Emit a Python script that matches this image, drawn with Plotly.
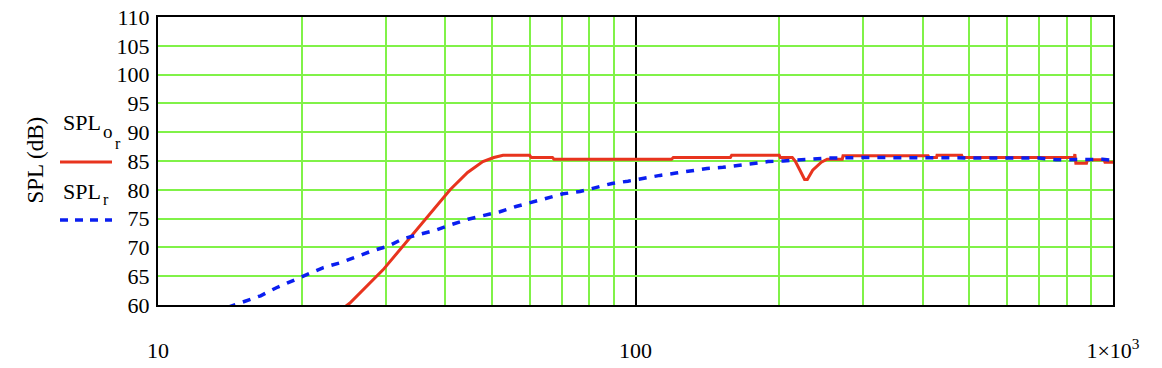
import plotly.graph_objects as go

# ---- data ----
freq_or = [24, 25.2, 29.6, 34.8, 40.9, 44.5, 47.9, 50.5, 52.8, 60, 60.5, 67, 67.5, 119, 120, 158, 159,
           200, 201, 213, 216, 221, 226, 229, 235, 245, 252, 271, 272, 410, 412, 427, 428, 482, 484,
           830, 832, 836, 880, 884, 958, 962, 1000]
spl_or = [59.0, 60.3, 66.1, 73.0, 80.0, 83.0, 84.9, 85.6, 86.0, 86.0, 85.6, 85.6, 85.3, 85.3, 85.6, 85.6, 86.0,
          86.0, 85.6, 85.6, 85.0, 83.4, 81.8, 81.8, 83.4, 84.8, 85.3, 85.3, 85.9, 85.9, 85.6, 85.6, 86.0, 86.0, 85.6,
          85.6, 86.2, 84.6, 84.6, 85.2, 85.2, 84.8, 84.8]

freq_r = [14.0, 15.1, 16.4, 17.7, 19.1, 20.6, 22.2, 24.0, 26.0, 28.1, 30.3, 32.6, 35.4, 38.2, 41.3, 44.6,
          47.9, 52.0, 56.2, 60.7, 65.3, 70.5, 76.5, 82.6, 89.3, 96.4, 103.7, 112.5, 121.6, 131.2, 141.1,
          152.4, 164, 176, 189.5, 204, 219, 235, 252, 300, 500, 700, 760, 850, 950, 1000]
spl_r = [59.6, 60.6, 61.6, 63.0, 64.2, 65.3, 66.5, 67.3, 68.4, 69.4, 70.2, 71.5, 72.3, 73.0, 74.0, 74.9,
         75.5, 76.2, 77.1, 77.8, 78.5, 79.3, 79.7, 80.4, 81.1, 81.5, 82.0, 82.5, 82.9, 83.3, 83.7,
         83.9, 84.2, 84.5, 84.9, 85.0, 85.2, 85.3, 85.5, 85.6, 85.6, 85.5, 85.2, 85.3, 85.3, 85.1]

x_tickvals = [10, 100, 1000]
x_ticktext = ["10", "100", "1×10<sup>3</sup>"]
x_minor = [20, 30, 40, 50, 60, 70, 80, 90, 200, 300, 400, 500, 600, 700, 800, 900]
y_ticks = list(range(60, 111, 5))

RED = "#E8341E"
BLUE = "#0A1EF0"
GREEN = "#80F248"
FONT = "Liberation Serif"

W, H = 1162, 368
L, R, T, B = 158, 1113, 17, 305


def px(xp):
    return (xp - L) / (R - L)


def py(yp):
    return (B - yp) / (B - T)


fig = go.Figure()
fig.add_trace(go.Scatter(x=freq_or, y=spl_or, mode="lines",
                         line=dict(color=RED, width=3), name="SPL_o_r"))
fig.add_trace(go.Scatter(x=freq_r, y=spl_r, mode="lines",
                         line=dict(color=BLUE, width=3.5, dash="8px,8px"), name="SPL_r"))

fig.update_layout(
    width=W, height=H,
    margin=dict(l=L, r=W - R, t=T, b=H - B, autoexpand=False),
    paper_bgcolor="white", plot_bgcolor="white",
    showlegend=False,
    font=dict(family=FONT, size=22, color="black"),
    xaxis=dict(type="log", range=[1, 3], tickmode="array", tickvals=x_tickvals, ticktext=x_ticktext,
               showgrid=True, gridcolor="black", gridwidth=2,
               minor=dict(tickmode="array", tickvals=x_minor, showgrid=True, gridcolor=GREEN, gridwidth=2, ticks=""),
               showline=True, linecolor="black", linewidth=2, mirror=True, automargin=False,
               ticks="", ticklabelstandoff=25, zeroline=False,
               tickfont=dict(family=FONT, size=22, color="black")),
    yaxis=dict(range=[60, 110], tickmode="array", tickvals=y_ticks,
               showgrid=True, gridcolor=GREEN, gridwidth=2,
               showline=True, linecolor="black", linewidth=2, mirror=True, automargin=False,
               ticks="", ticklabelstandoff=2, zeroline=False,
               tickfont=dict(family=FONT, size=22, color="black")),
)

# y-axis title
fig.add_annotation(text="SPL (dB)", xref="paper", yref="paper", x=px(20), y=py(160),
                   textangle=-90, showarrow=False, font=dict(family=FONT, size=23, color="black"))

# legend texts
def txt(t, xp, yp, size):
    fig.add_annotation(text=t, xref="paper", yref="paper", x=px(xp), y=py(yp), xanchor="left",
                       yanchor="middle", showarrow=False, font=dict(family=FONT, size=size, color="black"))

txt("SPL", 61, 122, 22)
txt("o", 101, 131, 19)
txt("r", 113, 143, 16)
txt("SPL", 61, 191, 22)
txt("r", 101, 199, 16)

fig.add_shape(type="line", xref="paper", yref="paper", x0=px(60), x1=px(112), y0=py(162), y1=py(162),
              line=dict(color=RED, width=3))
fig.add_shape(type="line", xref="paper", yref="paper", x0=px(60), x1=px(112), y0=py(220), y1=py(220),
              line=dict(color=BLUE, width=3.5, dash="8px,7px"))

fig.write_html("out.html", config={"displayModeBar": False},
               post_script="document.body.style.margin='0';")
